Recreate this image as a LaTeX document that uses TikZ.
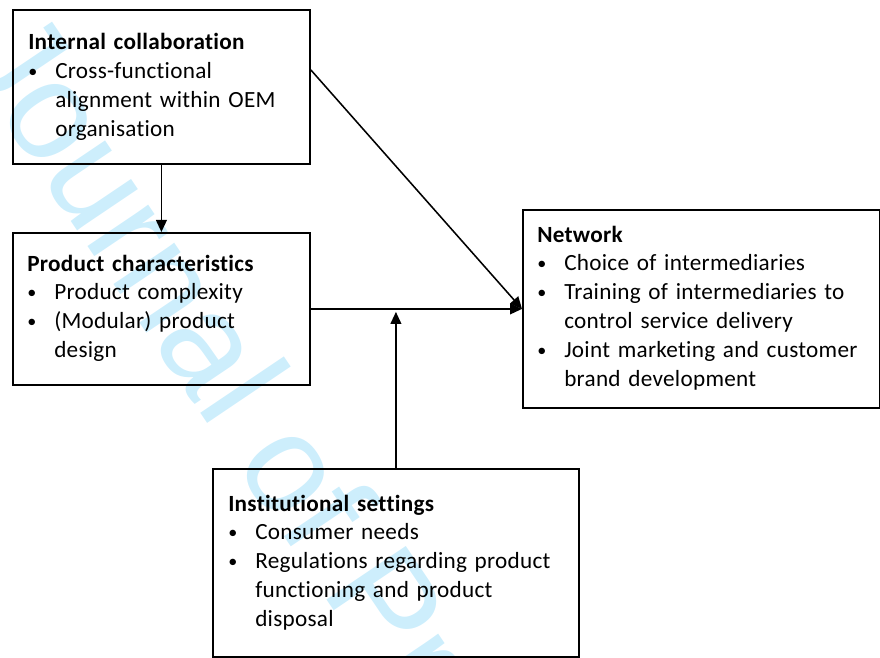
\documentclass[tikz,border=0pt]{standalone}
\usepackage{fontspec}
\usepackage{graphicx}
\setmainfont{Carlito}[LetterSpace=1.2, Ligatures=NoCommon]
\newfontfamily\wmfont{Liberation Sans}
\usetikzlibrary{arrows.meta}

\newlength{\pxu}
\setlength{\pxu}{0.025cm}
\newcommand{\bitem}{\makebox[27\pxu][l]{\raisebox{0.07em}{\scalebox{0.78}{\textbullet}}}}
\newcommand{\bcont}{\hspace*{27\pxu}}

\definecolor{wmblue}{RGB}{205,238,252}

\tikzset{
  block/.style={draw, line width=1.3pt, inner sep=0pt, anchor=north west},
  blocktext/.style={anchor=base west, align=left, inner sep=0pt,
    font=\fontsize{16.5}{20.6}\selectfont},
  link/.style={line width=1.1pt, -{Triangle[length=0.3cm, width=0.27cm]}},
  watermark/.style={text=wmblue, inner sep=0pt,
    font=\wmfont\fontsize{99}{99}\selectfont}
}

\begin{document}
\begin{tikzpicture}[x=0.025cm, y=-0.025cm]
    \useasboundingbox (0,0) rectangle (880,657);
    % Znak wodny
    \node[watermark, rotate=-56, anchor=base west] (wm) at (-43,52) {Journal of Pre-proof};
    % Bloki
    \node[block, minimum width=297\pxu, minimum height=154\pxu] (internal) at (12,9) {};
    \node[block, minimum width=297\pxu, minimum height=152\pxu] (product) at (12,232) {};
    \node[block, minimum width=357\pxu, minimum height=198\pxu] (network) at (522,209) {};
    \node[block, minimum width=366\pxu, minimum height=188\pxu] (institutional) at (212,468) {};
    % Teksty w blokach
    \node[blocktext, text width=275\pxu] (internaltext) at (28,50)
        {\textbf{Internal collaboration}\\
         \bitem Cross-functional\\
         \bcont alignment within OEM\\
         \bcont organisation};
    \node[blocktext, text width=275\pxu] (producttext) at (27,271)
        {\textbf{Product characteristics}\\
         \bitem Product complexity\\
         \bitem (Modular) product\\
         \bcont design};
    \node[blocktext, text width=338\pxu] (networktext) at (537,242)
        {\textbf{Network}\\
         \bitem Choice of intermediaries\\
         \bitem Training of intermediaries to\\
         \bcont control service delivery\\
         \bitem Joint marketing and customer\\
         \bcont brand development};
    \node[blocktext, text width=345\pxu] (institutionaltext) at (228,511)
        {\textbf{Institutional settings}\\
         \bitem Consumer needs\\
         \bitem Regulations regarding product\\
         \bcont functioning and product\\
         \bcont disposal};
    % Strzałki
    \draw[link] (internal.south) -- (product.north);
    \draw[link] ([yshift=0.425cm]internal.east) -- (network.west);
    \draw[link] (product.east) -- (network.west);
    \draw[link, shorten >=0.075cm] (institutional.north) -- (institutional.north |- product.east);
\end{tikzpicture}
\end{document}
